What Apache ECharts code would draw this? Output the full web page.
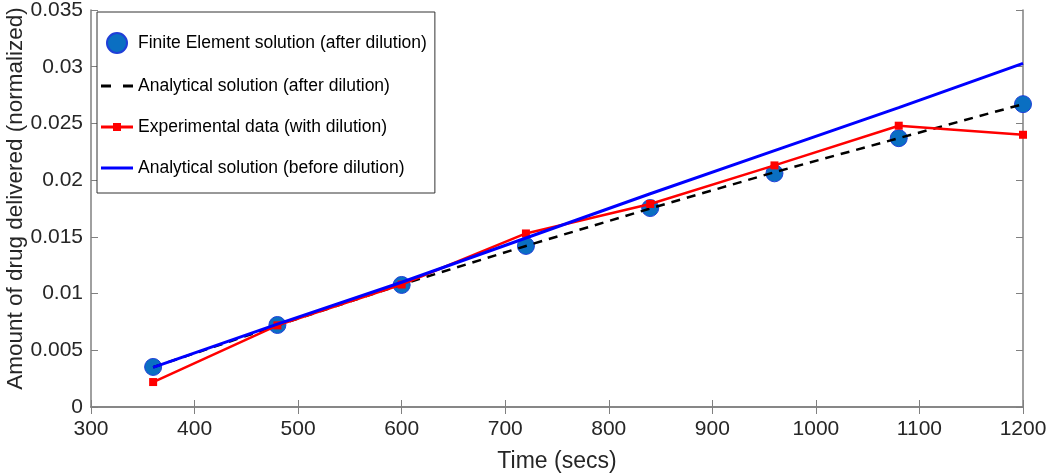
<!DOCTYPE html>
<html><head><meta charset="utf-8">
<script src="https://cdn.jsdelivr.net/npm/echarts@6/dist/echarts.min.js"></script>
<style>html,body{margin:0;padding:0;background:#fff}#c{width:1050px;height:475px}</style>
</head><body><div id="c"></div>
<script>
const times = [360, 480, 600, 720, 840, 960, 1080, 1200];
const feAfter = [0.00353, 0.00723, 0.01076, 0.0142, 0.01754, 0.0206, 0.0237, 0.0267];
const analyticalAfter = [0.0035, 0.0072, 0.0108, 0.0142, 0.0175, 0.0207, 0.0237, 0.0267];
const experimental = [0.0022, 0.0072, 0.0108, 0.0153, 0.0179, 0.0213, 0.0248, 0.0240];
const analyticalBefore = [0.0035, 0.0073, 0.0110, 0.0149, 0.0188, 0.0226, 0.0264, 0.0303];
const xTicks = [300, 400, 500, 600, 700, 800, 900, 1000, 1100, 1200];
const yTicks = [0, 0.005, 0.01, 0.015, 0.02, 0.025, 0.03, 0.035];
const seriesNames = ['Finite Element solution (after dilution)', 'Analytical solution (after dilution)', 'Experimental data (with dilution)', 'Analytical solution (before dilution)'];

const pairs = arr => times.map((t, i) => [t, arr[i]]);
const font = 'Arial, "Liberation Sans", sans-serif';
const axisCol = '#808080';
const labelCol = '#262626';

const chart = echarts.init(document.getElementById('c'));
chart.setOption({
  animation: false,
  grid: {left: 91, right: 27, top: 10, bottom: 68, containLabel: false, outerBoundsMode: 'none'},
  legend: {
    orient: 'vertical', left: 97, top: 12,
    padding: [20, 8, 16, 4],
    itemGap: 23, itemWidth: 32, itemHeight: 20,
    borderColor: '#333', borderWidth: 1, backgroundColor: '#fff',
    textStyle: {fontFamily: font, fontSize: 17.5, color: '#000'},
    data: [
      {name: seriesNames[0], icon: 'circle'},
      {name: seriesNames[1], icon: 'path://M0,0h10v3h-10z M22,0h10v3h-10z'},
      {name: seriesNames[2], icon: 'path://M0,5h32v3h-32z M12,2.5h8v8h-8z'},
      {name: seriesNames[3], icon: 'path://M0,0h32v3h-32z'}
    ]
  },
  xAxis: [{
    type: 'value', min: xTicks[0], max: xTicks[xTicks.length - 1], interval: 100,
    name: 'Time (secs)', nameLocation: 'middle', nameGap: 43, nameMoveOverlap: false,
    nameTextStyle: {fontFamily: font, fontSize: 23, color: labelCol},
    axisLine: {show: true, lineStyle: {color: axisCol, width: 1.5}},
    axisTick: {show: true, inside: true, length: 7, lineStyle: {color: axisCol}},
    axisLabel: {fontFamily: font, fontSize: 21, color: labelCol, margin: 12, formatter: v => String(v)},
    splitLine: {show: false}
  }, {
    type: 'value', position: 'top', min: xTicks[0], max: xTicks[xTicks.length - 1], interval: 100,
    axisLine: {show: true, lineStyle: {color: axisCol, width: 1.5}},
    axisTick: {show: true, inside: true, length: 7, lineStyle: {color: axisCol}},
    axisLabel: {show: false}, splitLine: {show: false}
  }],
  yAxis: [{
    type: 'value', min: yTicks[0], max: yTicks[yTicks.length - 1], interval: 0.005,
    name: 'Amount of drug delivered (normalized)', nameLocation: 'middle', nameGap: 64, nameMoveOverlap: false,
    nameTextStyle: {fontFamily: font, fontSize: 22.5, color: labelCol, padding: [0, 0, 0, 20]},
    axisLine: {show: true, lineStyle: {color: axisCol, width: 1.5}},
    axisTick: {show: true, inside: true, length: 7, lineStyle: {color: axisCol}},
    axisLabel: {fontFamily: font, fontSize: 21, color: labelCol, margin: 8,
      formatter: v => v === 0 ? '0' : String(+v.toFixed(3))},
    splitLine: {show: false}
  }, {
    type: 'value', position: 'right', min: yTicks[0], max: yTicks[yTicks.length - 1], interval: 0.005,
    axisLine: {show: true, lineStyle: {color: axisCol, width: 1.5}},
    axisTick: {show: true, inside: true, length: 7, lineStyle: {color: axisCol}},
    axisLabel: {show: false}, splitLine: {show: false}
  }],
  series: [
    {
      name: seriesNames[1], type: 'line', data: pairs(analyticalAfter), z: 3,
      symbol: 'none', lineStyle: {color: '#000', width: 2.5, type: [9, 7]},
      itemStyle: {color: '#000'}
    },
    {
      name: seriesNames[2], type: 'line', data: pairs(experimental), z: 4,
      symbol: 'rect', symbolSize: 8, showSymbol: true,
      lineStyle: {color: '#ff0000', width: 2.5}, itemStyle: {color: '#ff0000'}
    },
    {
      name: seriesNames[3], type: 'line', data: pairs(analyticalBefore), z: 5,
      symbol: 'none', lineStyle: {color: '#0000ff', width: 3}, itemStyle: {color: '#0000ff'}
    },
    {
      name: seriesNames[0], type: 'scatter', data: pairs(feAfter), z: 2,
      symbol: 'circle', symbolSize: 17,
      itemStyle: {color: '#0a6fc2', borderColor: '#1f3fd8', borderWidth: 1, opacity: 1}
    }
  ]
});
</script></body></html>
